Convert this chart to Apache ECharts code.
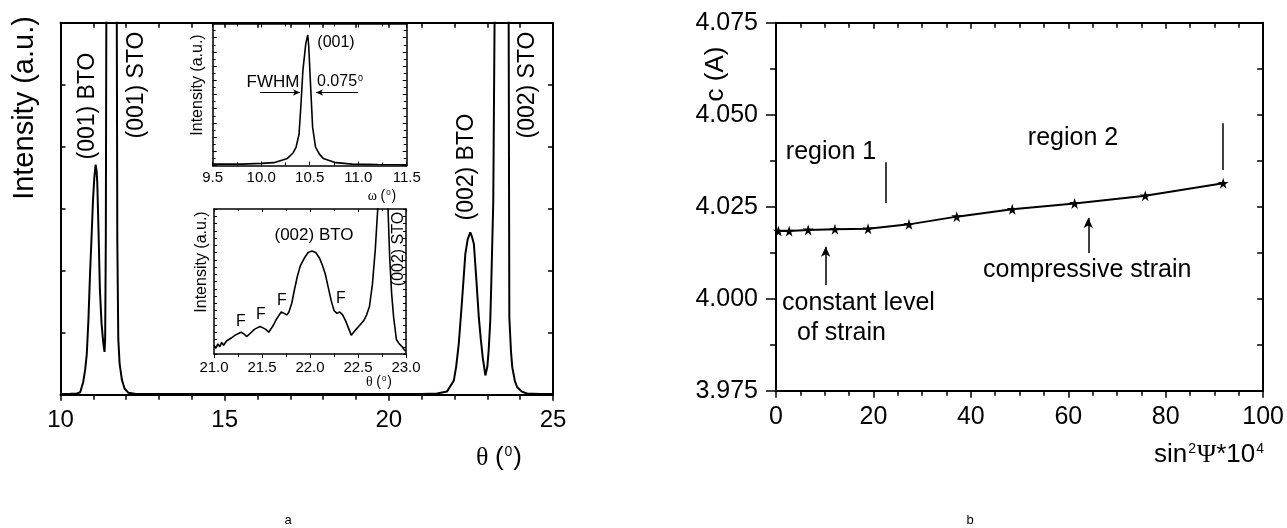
<!DOCTYPE html>
<html>
<head>
<meta charset="utf-8">
<script src="https://cdn.jsdelivr.net/npm/echarts@6/dist/echarts.min.js"></script>
<style>
  html, body { margin: 0; padding: 0; background: #fff; }
  #chart { width: 1287px; height: 528px; }
</style>
</head>
<body>
<div id="chart"></div>
<script>
/* panel a : theta-2theta scan */
var thetaA = [10.0, 10.3, 10.5, 10.6, 10.69, 10.75, 10.80, 10.85, 10.90, 10.95, 10.99, 11.03, 11.07, 11.10, 11.12, 11.16, 11.20, 11.25, 11.30, 11.34,
  11.36, 11.38, 11.40, 11.50, 11.60, 11.71, 11.73, 11.76, 11.80, 11.87, 11.95, 12.07, 12.3, 13.0, 15.0, 18.0, 21.0,
  21.47, 21.77, 21.98, 22.05, 22.13, 22.23, 22.33, 22.40, 22.48, 22.53, 22.59, 22.66, 22.74, 22.80, 22.86, 22.94,
  23.00, 23.04, 23.09, 23.12, 23.18, 23.22, 23.40, 23.55, 23.65, 23.67, 23.72, 23.76, 23.84, 23.91, 24.05, 24.21, 24.6, 25.0];
var intensityA = [0.01, 0.015, 0.02, 0.04, 0.2, 0.4, 0.65, 1.2, 1.96, 2.6, 3.14, 3.5, 3.71, 3.6, 3.42, 2.6, 1.69, 1.15, 0.85, 0.69,
  0.9, 2.5, 7, 25, 25, 7, 2.5, 0.9, 0.5, 0.24, 0.1, 0.03, 0.01, 0.01, 0.01, 0.01, 0.01,
  0.02, 0.05, 0.23, 0.45, 0.82, 1.52, 2.27, 2.5, 2.62, 2.55, 2.43, 1.9, 1.25, 0.9, 0.6, 0.31,
  0.45, 0.71, 1.2, 1.79, 3.1, 6, 25, 25, 6, 1.25, 0.7, 0.44, 0.22, 0.12, 0.05, 0.02, 0.01, 0.01];

/* inset 1 : rocking curve of (001) */
var omegaRC = [9.5, 9.8, 10.0, 10.13, 10.27, 10.33, 10.36, 10.39, 10.41, 10.43, 10.46, 10.48, 10.49, 10.51, 10.53, 10.56, 10.60, 10.64, 10.77, 10.94, 11.2, 11.5];
var intensityRC = [0.01, 0.01, 0.015, 0.02, 0.05, 0.09, 0.13, 0.22, 0.43, 0.67, 0.86, 0.92, 0.84, 0.55, 0.27, 0.13, 0.08, 0.05, 0.02, 0.01, 0.007, 0.005];

/* inset 2 : (002) region with fringes */
var thetaFr = [21.00, 21.02, 21.04, 21.06, 21.08, 21.10, 21.13, 21.15, 21.18, 21.20, 21.22, 21.25, 21.28, 21.31, 21.34, 21.36, 21.39, 21.42,
  21.45, 21.48, 21.51, 21.54, 21.57, 21.59, 21.62, 21.65, 21.68, 21.70, 21.73, 21.76, 21.78, 21.81, 21.84, 21.87, 21.90, 21.94,
  21.98, 22.02, 22.06, 22.10, 22.13, 22.16, 22.19, 22.22, 22.25, 22.28, 22.31, 22.34, 22.37, 22.40, 22.43, 22.45, 22.48, 22.52,
  22.56, 22.59, 22.62, 22.65, 22.68, 22.71, 22.76, 22.81, 22.83, 22.85, 22.87, 22.90, 22.93, 22.96, 22.98, 23.00];
var intensityFr = [0.06, 0.04, 0.07, 0.05, 0.08, 0.06, 0.09, 0.08, 0.11, 0.10, 0.13, 0.14, 0.15, 0.14, 0.12, 0.13, 0.15, 0.17,
  0.18, 0.19, 0.18, 0.17, 0.15, 0.15, 0.20, 0.24, 0.27, 0.29, 0.28, 0.27, 0.29, 0.35, 0.45, 0.54, 0.61, 0.66,
  0.70, 0.71, 0.70, 0.66, 0.61, 0.55, 0.46, 0.37, 0.30, 0.28, 0.29, 0.27, 0.23, 0.18, 0.13, 0.13, 0.17, 0.20,
  0.23, 0.27, 0.33, 0.48, 0.72, 1.05, 1.3, 1.05, 0.67, 0.42, 0.26, 0.10, 0.07, 0.05, 0.03, 0.02];

/* panel b : lattice parameter c vs sin^2 psi */
var sinPsi = [0.5, 2.7, 6.6, 12.1, 18.9, 27.3, 37.1, 48.5, 61.3, 75.8, 91.8];
var cParam = [4.0184, 4.0184, 4.0187, 4.0189, 4.0190, 4.0202, 4.0223, 4.0243, 4.0259, 4.0280, 4.0314];

/* annotation marks, data coordinates */
var fwhmArrows = [[[9.99, 0.514], [10.40, 0.514]], [[11.0, 0.514], [10.565, 0.514]]];
var regionLines = [[[22.6, 4.0371], [22.6, 4.0260]], [[91.8, 4.0477], [91.8, 4.0350]]];
var strainArrows = [[[10.2, 4.0037], [10.2, 4.0141]], [[64.1, 4.0124], [64.1, 4.0219]]];

function pairs(xs, ys) {
  return xs.map(function (x, i) { return [x, ys[i]]; });
}

var FONT = 'Liberation Sans, Arial, sans-serif';
var SERIF = 'Liberation Serif, Times New Roman, serif';

function axis(gridIndex, min, max, interval, o) {
  return {
    type: 'value', gridIndex: gridIndex, min: min, max: max, interval: interval,
    position: o.position,
    axisLine: { onZero: false, lineStyle: { color: '#000', width: o.lw || 2 } },
    axisTick: { show: o.tick !== false, inside: !!o.inside, length: o.tl || 5, lineStyle: { color: '#000', width: o.tw || 1.5 } },
    minorTick: { show: !!o.minor, splitNumber: o.minor || 5, length: o.ml || 4, lineStyle: { color: '#000', width: o.tw || 1.5 } },
    axisLabel: o.label ? {
      show: true, color: '#000', fontFamily: FONT, fontSize: o.fs || 24, margin: o.margin || 10,
      formatter: o.fmt
    } : { show: false },
    splitLine: { show: false },
    minorSplitLine: { show: false }
  };
}

var xAxes = [
  axis(0, 10, 25, 5, { position: 'bottom', label: true, fs: 24, margin: 14, tl: 6, minor: 5, ml: 5 }),
  axis(0, 10, 25, 5, { position: 'top', inside: true, tl: 5, minor: 5, ml: 5 }),
  axis(1, 9.5, 11.5, 0.5, { position: 'bottom', label: true, fs: 15, margin: 5, inside: true, tl: 4, minor: 2, ml: 3, lw: 1.5, tw: 1,
    fmt: function (v) { return v.toFixed(1); } }),
  axis(1, 9.5, 11.5, 0.5, { position: 'top', inside: true, tl: 4, minor: 2, ml: 3, lw: 1.5, tw: 1 }),
  axis(2, 21, 23, 0.5, { position: 'bottom', label: true, fs: 15, margin: 6, tl: 4, minor: 2, ml: 3, lw: 1.5, tw: 1,
    fmt: function (v) { return v.toFixed(1); } }),
  axis(2, 21, 23, 0.5, { position: 'top', inside: true, tl: 3, minor: 2, ml: 2, lw: 1.5, tw: 1 }),
  axis(3, 0, 100, 20, { position: 'bottom', label: true, fs: 25, margin: 14, tl: 7, minor: 4, ml: 5 }),
  axis(3, 0, 100, 20, { position: 'top', inside: true, tl: 6, minor: 4, ml: 5 })
];

var yAxes = [
  axis(0, 0, 6, 1, { position: 'left', inside: true, tl: 5 }),
  axis(0, 0, 6, 1, { position: 'right', inside: true, tl: 5 }),
  axis(1, 0, 1, 0.1, { position: 'left', inside: true, tl: 4, minor: 2, ml: 3, lw: 1.5, tw: 1 }),
  axis(1, 0, 1, 0.1, { position: 'right', inside: true, tl: 4, minor: 2, ml: 3, lw: 1.5, tw: 1 }),
  axis(2, 0, 1, 0.05, { position: 'left', inside: true, tl: 3, lw: 1.5, tw: 1 }),
  axis(2, 0, 1, 0.05, { position: 'right', inside: true, tl: 3, lw: 1.5, tw: 1 }),
  axis(3, 3.975, 4.075, 0.025, { position: 'left', label: true, fs: 25, margin: 18, tl: 10, minor: 2, ml: 6,
    fmt: function (v) { return v.toFixed(3); } }),
  axis(3, 3.975, 4.075, 0.025, { position: 'right', inside: true, tl: 6, minor: 2, ml: 6 })
];

function segs(list, arrow) {
  return list.map(function (s) {
    return [{ coord: s[0], symbol: 'none' }, { coord: s[1], symbol: arrow ? 'arrow' : 'none' }];
  });
}

function txt(x, y, text, size, o) {
  o = o || {};
  return {
    type: 'text', x: x, y: y, rotation: o.rot || 0, silent: true,
    style: {
      text: text, fill: '#000', font: size + 'px ' + (o.family || FONT),
      align: o.align || 'center', verticalAlign: 'middle', rich: o.rich
    }
  };
}

var V = Math.PI / 2;
var supTheta = function (size) {
  return {
    t: { fontFamily: SERIF, fontSize: size, fill: '#000' },
    p: { fontFamily: FONT, fontSize: size, fill: '#000' },
    s: { fontFamily: FONT, fontSize: Math.round(size * 0.55), fill: '#000', verticalAlign: 'top', padding: [0, 1, 0, 1] }
  };
};

var graphics = [
  txt(25, 108, 'Intensity (a.u.)', 29, { rot: V }),
  txt(88, 106, '(001) BTO', 23, { rot: V }),
  txt(137, 85, '(001) STO', 23, { rot: V }),
  txt(467, 167, '(002) BTO', 23, { rot: V }),
  txt(528, 85, '(002) STO', 23, { rot: V }),
  txt(499, 458, '{t|θ }{p|(}{s|0}{p|)}', 26, { rich: supTheta(26) }),
  // inset 1
  txt(198, 85, 'Intensity (a.u.)', 16, { rot: V }),
  txt(336, 43, '(001)', 16),
  txt(273, 82, 'FWHM', 17),
  txt(317, 82, '{p|0.075}{s|0}', 16, { align: 'left', rich: supTheta(16) }),
  txt(382, 196, '{t|ω }{p|(}{s|0}{p|)}', 14, { rich: supTheta(14) }),
  // inset 2
  txt(202, 262, 'Intensity (a.u.)', 16, { rot: V }),
  txt(314, 235, '(002) BTO', 17),
  txt(241, 322, 'F', 16),
  txt(261, 315, 'F', 16),
  txt(282, 301, 'F', 16),
  txt(341, 299, 'F', 16),
  txt(399, 249, '(002) STO', 16, { rot: V }),
  txt(379, 382, '{t|θ }{p|(}{s|0}{p|)}', 14, { rich: supTheta(14) }),
  // panel b
  txt(716, 74, 'c (A)', 26, { rot: V }),
  txt(1265, 455, '{p|sin}{s|2}{t|Ψ}{p|*10}{s|4}', 26, { align: 'right', rich: supTheta(26) }),
  txt(831, 152, 'region 1', 25),
  txt(1073, 138, 'region 2', 25),
  txt(782, 303, 'constant level', 25, { align: 'left' }),
  txt(797, 333, 'of strain', 25, { align: 'left' }),
  txt(983, 270, 'compressive strain', 25, { align: 'left' }),
  txt(288, 520, 'a', 13),
  txt(970, 520, 'b', 13)
];

var markStyle = {
  silent: true, animation: false, label: { show: false },
  symbolSize: [7, 10],
  lineStyle: { color: '#000', width: 1.5, type: 'solid' },
  emphasis: { disabled: true }
};

var option = {
  animation: false,
  backgroundColor: '#fff',
  grid: [
    { left: 60.5, top: 22.7, width: 492.5, height: 372 },
    { left: 212.7, top: 23.5, width: 194, height: 142 },
    { left: 214, top: 209, width: 192, height: 145 },
    { left: 776, top: 22.7, width: 489, height: 368 }
  ],
  xAxis: xAxes,
  yAxis: yAxes,
  graphic: graphics,
  series: [
    {
      type: 'line', xAxisIndex: 0, yAxisIndex: 0, data: pairs(thetaA, intensityA),
      showSymbol: false, symbol: 'none', clip: true,
      lineStyle: { color: '#000', width: 2 }
    },
    {
      type: 'line', xAxisIndex: 2, yAxisIndex: 2, data: pairs(omegaRC, intensityRC),
      showSymbol: false, symbol: 'none', clip: true,
      lineStyle: { color: '#000', width: 1.6 },
      markLine: Object.assign({ data: segs(fwhmArrows, true) }, markStyle, { lineStyle: { color: '#000', width: 1, type: 'solid' }, symbolSize: [5, 7] })
    },
    {
      type: 'line', xAxisIndex: 4, yAxisIndex: 4, data: pairs(thetaFr, intensityFr),
      showSymbol: false, symbol: 'none', clip: true,
      lineStyle: { color: '#000', width: 1.6 }
    },
    {
      type: 'line', xAxisIndex: 6, yAxisIndex: 6, data: pairs(sinPsi, cParam),
      symbol: 'path://M50,0 L61,35 L98,35 L68,57 L79,91 L50,70 L21,91 L32,57 L2,35 L39,35 Z',
      symbolSize: 11, showSymbol: true,
      itemStyle: { color: '#000' },
      lineStyle: { color: '#000', width: 2 },
      markLine: Object.assign({ data: segs(regionLines, false).concat(segs(strainArrows, true)) }, markStyle)
    }
  ]
};

var chart = echarts.init(document.getElementById('chart'));
chart.setOption(option);
</script>
</body>
</html>
